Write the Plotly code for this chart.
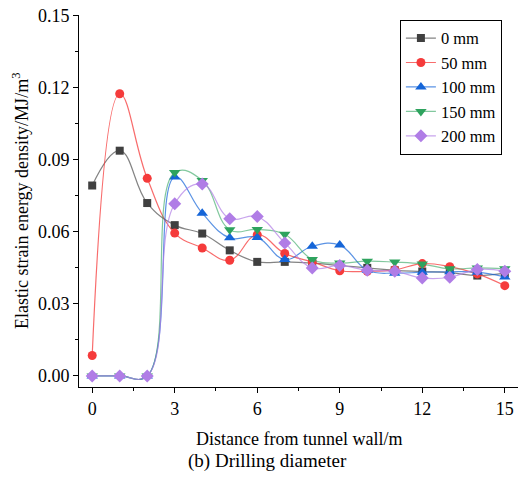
import plotly.graph_objects as go

distance = list(range(16))
names = ["0 mm", "50 mm", "100 mm", "150 mm", "200 mm"]
d0 = [0.0793, 0.0938, 0.0720, 0.0628, 0.0593, 0.0523, 0.0475, 0.0475, 0.0470, 0.0460, 0.0450, 0.0440, 0.0435, 0.0430, 0.0418, 0.0428]
d50 = [0.0085, 0.1175, 0.0823, 0.0595, 0.0533, 0.0482, 0.0588, 0.0510, 0.0475, 0.0438, 0.0436, 0.0442, 0.0468, 0.0455, 0.0425, 0.0376]
d100 = [0.0, 0.0, 0.0, 0.0828, 0.0678, 0.0575, 0.0577, 0.0485, 0.0540, 0.0545, 0.0440, 0.0428, 0.0432, 0.0434, 0.0432, 0.0412]
d150 = [0.0, 0.0, 0.0, 0.0847, 0.0814, 0.0609, 0.0610, 0.0590, 0.0485, 0.0470, 0.0478, 0.0474, 0.0466, 0.0446, 0.0450, 0.0446]
d200 = [0.0, 0.0, 0.0, 0.0717, 0.0799, 0.0655, 0.0664, 0.0554, 0.0450, 0.0460, 0.0440, 0.0436, 0.0408, 0.0411, 0.0443, 0.0436]
series = [d0, d50, d100, d150, d200]

marker_colors = ["#404040", "#f53b3b", "#1565d8", "#2ea35e", "#b07de6"]
line_colors = ["rgba(100,100,100,0.8)", "rgba(245,59,59,0.75)", "rgba(21,101,216,0.7)",
               "rgba(46,163,94,0.6)", "rgba(176,125,230,0.7)"]
symbols = ["square", "circle", "triangle-up", "triangle-down", "diamond"]
sizes = [8, 9, 10, 10, 10]

FONT = "Liberation Serif"

fig = go.Figure()
for name, ys, mc, lc, sym, sz in zip(names, series, marker_colors, line_colors, symbols, sizes):
    fig.add_trace(go.Scatter(
        x=distance, y=ys, name=name, mode="lines+markers",
        line=dict(color=lc, width=1.2, shape="spline", smoothing=1.2),
        marker=dict(symbol=sym, size=sz, color=mc, line=dict(width=0)),
    ))

axis_common = dict(
    showline=True, linecolor="black", linewidth=1, mirror=False,
    ticks="outside", ticklen=5, tickwidth=1, tickcolor="black",
    showgrid=False, zeroline=False,
    tickfont=dict(family=FONT, size=18, color="black"),
    automargin=False,
)

fig.update_layout(
    width=519, height=486,
    margin=dict(l=79, r=1, t=15, b=99),
    paper_bgcolor="white", plot_bgcolor="white",
    font=dict(family=FONT, size=18, color="black"),
    xaxis=dict(range=[-0.48, 15.48], tickvals=[0, 3, 6, 9, 12, 15],
               minor=dict(dtick=1.5, tick0=0, ticks="outside", ticklen=3, tickcolor="black"),
               **axis_common),
    yaxis=dict(range=[-0.0046, 0.1503], tickvals=[0, 0.03, 0.06, 0.09, 0.12, 0.15],
               tickformat=".2f",
               minor=dict(dtick=0.015, tick0=0, ticks="outside", ticklen=3, tickcolor="black"),
               **axis_common),
    legend=dict(x=0.731, y=0.987, xanchor="left", yanchor="top",
                bordercolor="black", borderwidth=1, bgcolor="white",
                font=dict(family=FONT, size=16.5, color="black")),
    showlegend=True,
    annotations=[
        dict(text="Distance from tunnel wall/m", xref="paper", yref="paper",
             x=0.5, y=(387 - 439) / 372, xanchor="center", yanchor="middle",
             showarrow=False, font=dict(family=FONT, size=18)),
        dict(text="(b) Drilling diameter", xref="paper", yref="paper",
             x=(267 - 79) / 439, y=(387 - 461) / 372, xanchor="center", yanchor="middle",
             showarrow=False, font=dict(family=FONT, size=19)),
        dict(text="Elastic strain energy density/MJ/m<sup>3</sup>", xref="paper", yref="paper",
             x=(20 - 79) / 439, y=0.5, xanchor="center", yanchor="middle", textangle=-90,
             showarrow=False, font=dict(family=FONT, size=18)),
    ],
)

fig.write_html("out.html", config={"displayModeBar": False},
               post_script="document.body.style.margin='0';document.body.style.padding='0';document.body.style.overflow='hidden';")
